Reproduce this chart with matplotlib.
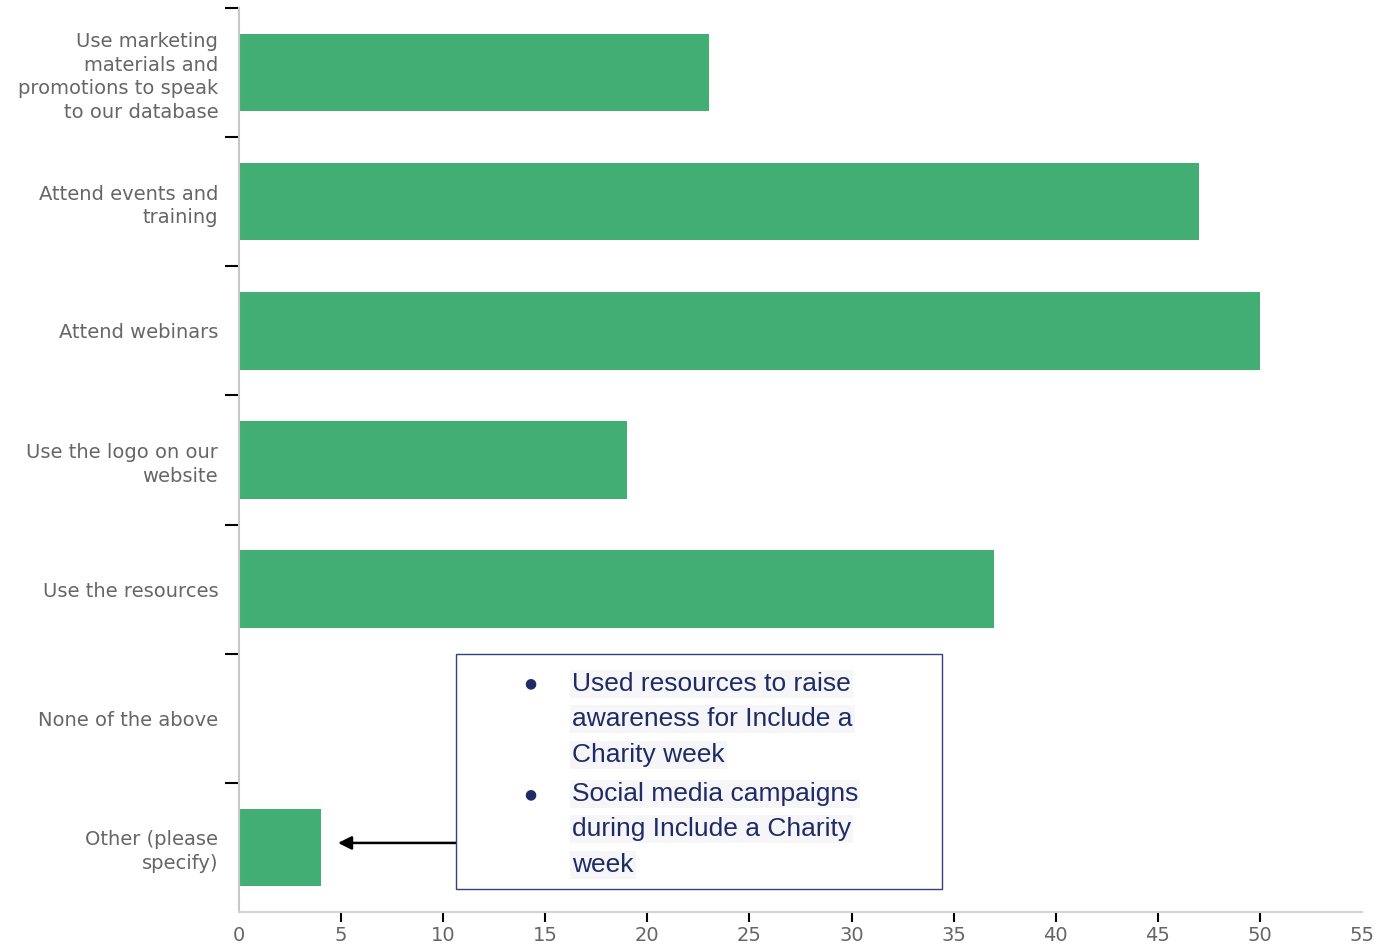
import matplotlib
matplotlib.use("Agg")
from matplotlib import pyplot as plt
from matplotlib.patches import Rectangle
import numpy as np

# dados
categorias = [
    "Use marketing\nmaterials and\npromotions to speak\nto our database",
    "Attend events and\ntraining",
    "Attend webinars",
    "Use the logo on our\nwebsite",
    "Use the resources",
    "None of the above",
    "Other (please\nspecify)",
]
valores = [23, 47, 50, 19, 37, 0, 4]
xticks = list(range(0, 56, 5))

# texto da caixa ("Other")
itens_outros = [
    ["Used resources to raise", "awareness for Include a", "Charity week"],
    ["Social media campaigns", "during Include a Charity", "week"],
]

verde = "#43ae73"
cinza_txt = "#666666"
azul = "#1f2b66"

fig = plt.figure(figsize=(13.78, 9.48), dpi=100)
ax = fig.add_axes([239 / 1378, 1 - 912 / 948, 1123 / 1378, 904 / 948])

y = np.arange(len(categorias))
ax.barh(y, valores, height=0.6, color=verde)

ax.set_xlim(0, 55)
ax.set_ylim(len(categorias) - 0.5, -0.5)

ax.set_yticks(y)
ax.set_yticklabels(categorias, fontsize=14, color=cinza_txt,
                   family="DejaVu Sans", linespacing=1.3)
ax.tick_params(axis="y", which="major", length=0, pad=15)
ax.set_yticks(np.arange(-0.5, len(categorias) - 1, 1), minor=True)
ax.tick_params(axis="y", which="minor", length=10, width=1.5, color="black")

ax.set_xticks(xticks)
ax.set_xticklabels([str(t) for t in xticks], fontsize=14, color=cinza_txt,
                   family="DejaVu Sans")
ax.tick_params(axis="x", length=7, width=1.5, color="black", pad=3)
# sem marca no 0 e no 55
xt = ax.xaxis.get_major_ticks()
xt[0].tick1line.set_visible(False)
xt[-1].tick1line.set_visible(False)

for lado in ["top", "right"]:
    ax.spines[lado].set_visible(False)
ax.spines["left"].set_color("#c8c8c8")
ax.spines["bottom"].set_color("#d4d4d4")
ax.spines["left"].set_linewidth(1.5)
ax.spines["bottom"].set_linewidth(1.5)

# caixa com os comentários
ax.add_patch(Rectangle((0.1932, 0.0255), 0.626 - 0.1932, 0.2857 - 0.0255,
                       transform=ax.transAxes, fill=False, edgecolor="#34407a",
                       linewidth=1.0, clip_on=False, zorder=5))

linhas_y = [[0.2525, 0.2137, 0.1739], [0.1307, 0.0919, 0.0520]]
for item, ys in zip(itens_outros, linhas_y):
    ax.text(0.2591, ys[0], "\u25cf", transform=ax.transAxes, fontsize=10,
            color=azul, ha="center", va="center", family="DejaVu Sans")
    for linha, yy in zip(item, ys):
        ax.text(0.2965, yy, linha, transform=ax.transAxes, fontsize=19,
                color=azul, ha="left", va="center", family="Liberation Sans",
                bbox=dict(facecolor="#f6f6f8", edgecolor="none", pad=1.5))

ax.annotate("", xy=(0.0882, 0.0764), xytext=(0.1932, 0.0764),
            xycoords="axes fraction", textcoords="axes fraction",
            arrowprops=dict(arrowstyle="-|>", color="black", lw=1.8,
                            mutation_scale=20, shrinkA=0, shrinkB=0))

fig.savefig("out.png", dpi=100)
